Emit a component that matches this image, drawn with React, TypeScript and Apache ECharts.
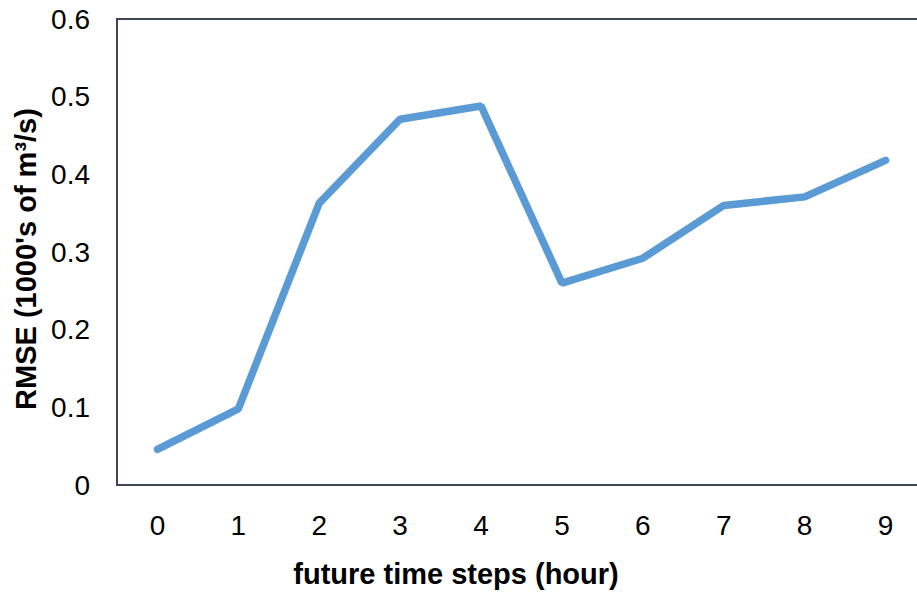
import React, { useEffect, useRef } from "react";
import * as echarts from "echarts";

const steps = ["0", "1", "2", "3", "4", "5", "6", "7", "8", "9"];
const rmse = [0.046, 0.098, 0.363, 0.471, 0.488, 0.26, 0.292, 0.36, 0.371, 0.418];
const xTitle = "future time steps (hour)";
const yTitle = "RMSE (1000's of m³/s)";

const FONT = "'Liberation Sans', Arial, sans-serif";
const AXIS_COLOR = "#3d4556";

export default function App() {
  const ref = useRef<HTMLDivElement>(null);

  useEffect(() => {
    if (!ref.current) return;
    const chart = echarts.init(ref.current, undefined, { renderer: "svg" });
    chart.setOption({
      animation: false,
      backgroundColor: "#ffffff",
      grid: {
        left: 117,
        top: 19,
        width: 809,
        height: 466,
        containLabel: false,
        outerBoundsMode: "none",
      },
      xAxis: {
        type: "category",
        data: steps,
        boundaryGap: true,
        axisLine: { show: true, lineStyle: { color: AXIS_COLOR, width: 2 } },
        axisTick: { show: false },
        axisLabel: { color: "#000", fontSize: 28, fontFamily: FONT, margin: 26 },
        splitLine: { show: false },
      },
      yAxis: {
        type: "value",
        min: 0,
        max: 0.6,
        interval: 0.1,
        axisLine: { show: true, lineStyle: { color: AXIS_COLOR, width: 2 } },
        axisTick: { show: false },
        splitLine: { show: false },
        axisLabel: {
          color: "#000",
          fontSize: 28,
          fontFamily: FONT,
          margin: 27,
          formatter: (v: number) => (v === 0 ? "0" : String(Math.round(v * 10) / 10)),
        },
      },
      graphic: [
        {
          type: "rect",
          shape: { x: 117, y: 19, width: 809, height: 466 },
          style: { fill: "none", stroke: AXIS_COLOR, lineWidth: 2 },
          silent: true,
          z: 0,
        },
        {
          type: "text",
          x: 456,
          y: 574,
          style: {
            text: xTitle,
            fill: "#000",
            font: `bold 29px ${FONT}`,
            textAlign: "center",
            textVerticalAlign: "middle",
          },
        },
        {
          type: "text",
          x: 26,
          y: 259,
          rotation: Math.PI / 2,
          style: {
            text: yTitle,
            fill: "#000",
            font: `bold 29px ${FONT}`,
            textAlign: "center",
            textVerticalAlign: "middle",
          },
        },
      ],
      series: [
        {
          type: "line",
          data: rmse,
          symbol: "none",
          lineStyle: { color: "#5b9bd5", width: 7.5, cap: "round" },
          z: 3,
        },
      ],
    });
    return () => chart.dispose();
  }, []);

  return <div ref={ref} style={{ width: 917, height: 592, position: "absolute", left: 0, top: 0 }} />;
}
